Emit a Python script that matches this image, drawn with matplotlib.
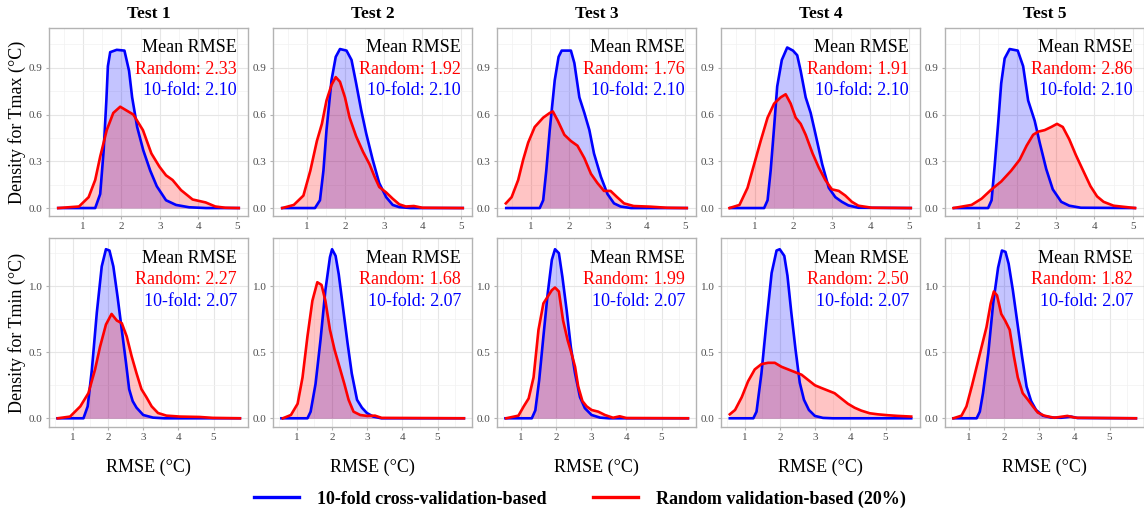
import matplotlib
matplotlib.use("Agg")
import matplotlib.pyplot as plt
from matplotlib.lines import Line2D
from matplotlib.ticker import MultipleLocator

plt.rcParams['font.family'] = ['Liberation Serif', 'DejaVu Serif']

tests = ['Test 1', 'Test 2', 'Test 3', 'Test 4', 'Test 5']

# mean RMSE labels
tmax_random_mean = [2.33, 1.92, 1.76, 1.91, 2.86]
tmax_cv_mean = [2.10, 2.10, 2.10, 2.10, 2.10]
tmin_random_mean = [2.27, 1.68, 1.99, 2.50, 1.82]
tmin_cv_mean = [2.07, 2.07, 2.07, 2.07, 2.07]

# density curves, Tmax row (10-fold = cv, random = rnd)
tmax_cv_x = [
    [0.36, 1.32, 1.45, 1.54, 1.61, 1.65, 1.71, 1.88, 2.08, 2.2, 2.28, 2.41, 2.57, 2.75, 2.92, 3.16, 3.42, 3.76, 4.2, 5.05],
    [0.36, 1.21, 1.34, 1.43, 1.51, 1.64, 1.75, 1.86, 2.03, 2.16, 2.28, 2.41, 2.54, 2.71, 2.88, 3.06, 3.23, 3.4, 3.7, 5.05],
    [0.36, 1.23, 1.32, 1.4, 1.49, 1.62, 1.72, 1.8, 2.04, 2.13, 2.26, 2.39, 2.52, 2.64, 2.82, 2.99, 3.16, 3.33, 3.6, 5.05],
    [0.36, 1.24, 1.33, 1.41, 1.5, 1.58, 1.7, 1.84, 1.99, 2.1, 2.19, 2.32, 2.45, 2.57, 2.75, 2.92, 3.09, 3.26, 3.43, 3.69, 5.05],
    [0.36, 1.24, 1.33, 1.41, 1.5, 1.58, 1.67, 1.8, 2.01, 2.15, 2.28, 2.45, 2.58, 2.75, 2.92, 3.14, 3.35, 3.65, 5.05],
]
tmax_cv_y = [
    [0, 0.0, 0.09, 0.37, 0.69, 0.91, 1.0, 1.015, 1.01, 0.88, 0.71, 0.52, 0.37, 0.24, 0.14, 0.05, 0.02, 0.005, 0, 0],
    [0, 0.0, 0.05, 0.24, 0.5, 0.82, 0.97, 1.02, 1.01, 0.95, 0.8, 0.63, 0.48, 0.31, 0.16, 0.07, 0.02, 0.006, 0, 0],
    [0, 0.0, 0.05, 0.24, 0.5, 0.82, 0.97, 1.01, 1.01, 0.93, 0.71, 0.61, 0.5, 0.35, 0.2, 0.09, 0.03, 0.01, 0, 0],
    [0, 0.0, 0.05, 0.24, 0.52, 0.78, 0.95, 1.03, 1.01, 0.98, 0.88, 0.71, 0.61, 0.48, 0.28, 0.13, 0.07, 0.04, 0.017, 0.002, 0],
    [0, 0.0, 0.05, 0.27, 0.54, 0.8, 0.96, 1.02, 1.01, 0.91, 0.69, 0.56, 0.42, 0.25, 0.12, 0.04, 0.015, 0.002, 0],
]
tmax_rnd_x = [
    [0.36, 0.9, 1.15, 1.32, 1.45, 1.62, 1.79, 1.97, 2.31, 2.56, 2.78, 2.99, 3.16, 3.33, 3.55, 3.85, 4.19, 4.44, 4.7, 5.05],
    [0.36, 0.66, 0.91, 1.09, 1.26, 1.39, 1.51, 1.64, 1.75, 1.86, 1.99, 2.11, 2.28, 2.46, 2.63, 2.76, 2.88, 3.06, 3.23, 3.4, 3.57, 3.78, 4.0, 5.05],
    [0.35, 0.5, 0.67, 0.8, 0.93, 1.1, 1.32, 1.49, 1.57, 1.7, 1.87, 2.04, 2.21, 2.39, 2.56, 2.73, 2.9, 3.07, 3.24, 3.42, 3.67, 4.1, 4.53, 5.05],
    [0.34, 0.6, 0.81, 0.98, 1.15, 1.33, 1.5, 1.67, 1.8, 1.93, 2.06, 2.19, 2.32, 2.5, 2.66, 2.83, 3.0, 3.18, 3.35, 3.52, 3.69, 4.04, 5.05],
    [0.34, 0.81, 1.07, 1.33, 1.58, 1.84, 2.06, 2.24, 2.41, 2.54, 2.71, 2.88, 3.03, 3.18, 3.35, 3.52, 3.69, 3.9, 4.07, 4.24, 4.5, 4.76, 5.06],
]
tmax_rnd_y = [
    [0, 0.01, 0.07, 0.18, 0.33, 0.5, 0.61, 0.65, 0.6, 0.5, 0.35, 0.265, 0.21, 0.18, 0.115, 0.055, 0.036, 0.01, 0.002, 0],
    [0, 0.02, 0.08, 0.24, 0.43, 0.54, 0.69, 0.79, 0.84, 0.81, 0.71, 0.58, 0.46, 0.36, 0.28, 0.2, 0.135, 0.1, 0.06, 0.024, 0.01, 0.013, 0.002, 0],
    [0.03, 0.07, 0.18, 0.31, 0.42, 0.52, 0.58, 0.61, 0.62, 0.56, 0.47, 0.43, 0.4, 0.32, 0.22, 0.16, 0.11, 0.11, 0.07, 0.03, 0.013, 0.009, 0.002, 0],
    [0, 0.02, 0.13, 0.28, 0.43, 0.58, 0.67, 0.71, 0.73, 0.67, 0.58, 0.54, 0.47, 0.35, 0.26, 0.18, 0.12, 0.11, 0.08, 0.04, 0.015, 0.002, 0],
    [0, 0.02, 0.06, 0.12, 0.17, 0.24, 0.31, 0.4, 0.47, 0.49, 0.5, 0.52, 0.54, 0.52, 0.44, 0.34, 0.25, 0.14, 0.075, 0.04, 0.015, 0.008, 0],
]

# Tmin row
tmin_cv_x = [
    [0.56, 1.3, 1.42, 1.54, 1.68, 1.82, 1.94, 2.04, 2.15, 2.27, 2.39, 2.51, 2.6, 2.7, 2.81, 3.0, 3.28, 3.6, 5.75],
    [0.56, 1.3, 1.39, 1.53, 1.67, 1.81, 1.94, 2.0, 2.1, 2.19, 2.31, 2.44, 2.56, 2.71, 2.85, 2.99, 3.17, 3.4, 5.75],
    [0.56, 1.31, 1.41, 1.52, 1.64, 1.76, 1.88, 1.97, 2.08, 2.18, 2.3, 2.42, 2.54, 2.68, 2.82, 3.01, 3.25, 3.5, 5.75],
    [0.57, 1.24, 1.33, 1.47, 1.61, 1.76, 1.9, 1.99, 2.12, 2.21, 2.32, 2.44, 2.56, 2.68, 2.82, 2.99, 3.22, 3.5, 5.73],
    [0.56, 1.22, 1.31, 1.4, 1.55, 1.69, 1.83, 1.94, 2.04, 2.13, 2.25, 2.38, 2.51, 2.64, 2.77, 2.91, 3.1, 3.33, 3.62, 3.9, 4.09, 5.75],
]
tmin_cv_y = [
    [0, 0.0, 0.09, 0.37, 0.8, 1.15, 1.28, 1.27, 1.15, 0.92, 0.67, 0.42, 0.22, 0.13, 0.08, 0.025, 0.005, 0, 0],
    [0, 0.0, 0.05, 0.26, 0.59, 0.97, 1.22, 1.28, 1.23, 1.09, 0.84, 0.57, 0.34, 0.14, 0.08, 0.04, 0.013, 0, 0],
    [0, 0.0, 0.06, 0.29, 0.62, 0.94, 1.2, 1.28, 1.25, 1.07, 0.82, 0.54, 0.34, 0.16, 0.076, 0.025, 0.005, 0, 0],
    [0, 0.0, 0.05, 0.34, 0.72, 1.1, 1.27, 1.28, 1.23, 1.08, 0.8, 0.52, 0.27, 0.14, 0.063, 0.018, 0.003, 0, 0],
    [0, 0.0, 0.05, 0.19, 0.49, 0.87, 1.14, 1.27, 1.26, 1.17, 0.97, 0.72, 0.47, 0.24, 0.13, 0.063, 0.02, 0.006, 0.004, 0.013, 0.002, 0],
]
tmin_rnd_x = [
    [0.57, 0.92, 1.21, 1.44, 1.63, 1.77, 1.94, 2.1, 2.25, 2.39, 2.53, 2.67, 2.81, 2.95, 3.09, 3.24, 3.42, 3.66, 4.04, 4.6, 4.98, 5.75],
    [0.6, 0.83, 1.02, 1.16, 1.3, 1.44, 1.58, 1.7, 1.81, 1.94, 2.07, 2.21, 2.35, 2.47, 2.61, 2.8, 2.99, 3.22, 3.41, 5.75],
    [0.58, 0.93, 1.08, 1.22, 1.36, 1.5, 1.64, 1.76, 1.88, 1.97, 2.08, 2.2, 2.33, 2.44, 2.54, 2.63, 2.75, 2.87, 3.01, 3.2, 3.39, 3.62, 3.81, 4.0, 5.75],
    [0.57, 0.72, 0.91, 1.09, 1.28, 1.47, 1.66, 1.85, 2.04, 2.23, 2.42, 2.61, 2.8, 2.99, 3.17, 3.36, 3.55, 3.74, 3.93, 4.12, 4.31, 4.55, 4.78, 5.07, 5.35, 5.73],
    [0.56, 0.79, 0.93, 1.08, 1.22, 1.36, 1.5, 1.62, 1.71, 1.8, 1.92, 2.03, 2.16, 2.28, 2.39, 2.53, 2.68, 2.82, 2.96, 3.14, 3.43, 3.8, 4.04, 5.75],
]
tmin_rnd_y = [
    [0, 0.013, 0.09, 0.19, 0.37, 0.54, 0.71, 0.79, 0.74, 0.72, 0.62, 0.47, 0.34, 0.22, 0.16, 0.09, 0.04, 0.02, 0.013, 0.01, 0.003, 0],
    [0, 0.025, 0.11, 0.31, 0.62, 0.89, 1.03, 1.01, 0.89, 0.67, 0.52, 0.39, 0.26, 0.14, 0.05, 0.025, 0.018, 0.02, 0.003, 0],
    [0, 0.02, 0.09, 0.15, 0.31, 0.67, 0.87, 0.92, 0.97, 0.99, 0.96, 0.74, 0.59, 0.49, 0.39, 0.24, 0.13, 0.09, 0.063, 0.05, 0.025, 0.004, 0.015, 0.002, 0],
    [0.03, 0.063, 0.16, 0.28, 0.37, 0.41, 0.42, 0.42, 0.39, 0.37, 0.35, 0.33, 0.29, 0.25, 0.23, 0.21, 0.19, 0.15, 0.11, 0.08, 0.058, 0.038, 0.03, 0.023, 0.018, 0.013],
    [0, 0.02, 0.09, 0.24, 0.39, 0.54, 0.69, 0.87, 0.96, 0.93, 0.79, 0.74, 0.67, 0.47, 0.31, 0.19, 0.14, 0.09, 0.043, 0.02, 0.004, 0.018, 0.004, 0],
]

W, H = 1144, 511
fig = plt.figure(figsize=(W / 100, H / 100), dpi=100)

lefts = [49, 273, 497, 721, 945]
pw = 199
rows = [
    dict(top=28, bottom=216, xlim=(0.12, 5.29), ylim=(-0.051, 1.155), ymaj=0.3, ymin=0.15,
         cvx=tmax_cv_x, cvy=tmax_cv_y, rx=tmax_rnd_x, ry=tmax_rnd_y,
         rmean=tmax_random_mean, cmean=tmax_cv_mean, ylabel='Density for Tmax (°C)'),
    dict(top=238, bottom=427, xlim=(0.32, 5.98), ylim=(-0.066, 1.365), ymaj=0.5, ymin=0.25,
         cvx=tmin_cv_x, cvy=tmin_cv_y, rx=tmin_rnd_x, ry=tmin_rnd_y,
         rmean=tmin_random_mean, cmean=tmin_cv_mean, ylabel='Density for Tmin (°C)'),
]

blue = '#0000FF'
red = '#FF0000'
border = '#B3B3B3'

for r, row in enumerate(rows):
    for i in range(5):
        ax = fig.add_axes([lefts[i] / W, 1 - row['bottom'] / H, pw / W, (row['bottom'] - row['top']) / H])
        ax.set_xlim(*row['xlim'])
        ax.set_ylim(*row['ylim'])
        ax.xaxis.set_minor_locator(MultipleLocator(0.5))
        ax.yaxis.set_minor_locator(MultipleLocator(row['ymin']))
        yt = [k * row['ymaj'] for k in range(4) if k * row['ymaj'] <= row['ylim'][1]]
        ax.set_yticks(yt)
        ax.set_yticklabels(['{:.1f}'.format(t) for t in yt])
        ax.set_xticks([1, 2, 3, 4, 5])
        ax.set_xticklabels(['1', '2', '3', '4', '5'])
        ax.grid(which='major', color='#E6E6E6', linewidth=0.8)
        ax.grid(which='minor', color='#F2F2F2', linewidth=0.5)
        ax.set_axisbelow(True)
        ax.tick_params(which='major', length=2.5, width=0.8, color=border, labelsize=8,
                       labelcolor='#4D4D4D', pad=2)
        ax.tick_params(which='minor', length=0)
        for s in ax.spines.values():
            s.set_color(border)
            s.set_linewidth(1.0)

        cx, cy = row['cvx'][i], row['cvy'][i]
        rx, ry = row['rx'][i], row['ry'][i]
        ax.fill_between(cx, cy, 0, color=blue, alpha=0.23, linewidth=0)
        ax.plot(cx, cy, color=blue, linewidth=1.9, solid_joinstyle='round')
        ax.fill_between(rx, ry, 0, color=red, alpha=0.23, linewidth=0)
        ax.plot(rx, ry, color=red, linewidth=1.9, solid_joinstyle='round')

        ax.text(0.945, 0.87, 'Mean RMSE', transform=ax.transAxes, ha='right',
                va='baseline', fontsize=13, color='black')
        ax.text(0.945, 0.756, 'Random: {:.2f}'.format(row['rmean'][i]), transform=ax.transAxes,
                ha='right', va='baseline', fontsize=13, color=red)
        ax.text(0.945, 0.641, '10-fold: {:.2f}'.format(row['cmean'][i]), transform=ax.transAxes,
                ha='right', va='baseline', fontsize=13, color=blue)

        if r == 0:
            ax.set_title(tests[i], fontsize=12.5, fontweight='bold', pad=7)
        else:
            ax.set_xlabel('RMSE (°C)', fontsize=13, labelpad=12)
        if i == 0:
            ax.set_ylabel(row['ylabel'], fontsize=13, labelpad=2)

handles = [Line2D([0], [0], color=blue, linewidth=2.4),
           Line2D([0], [0], color=red, linewidth=2.4)]
fig.legend(handles, ['10-fold cross-validation-based', 'Random validation-based (20%)'],
           loc='center', bbox_to_anchor=(0.507, 0.0235), ncol=2, frameon=False,
           prop={'weight': 'bold', 'size': 13}, handlelength=2.5, handletextpad=1.0,
           columnspacing=2.6)

fig.savefig('out.png', dpi=100)
